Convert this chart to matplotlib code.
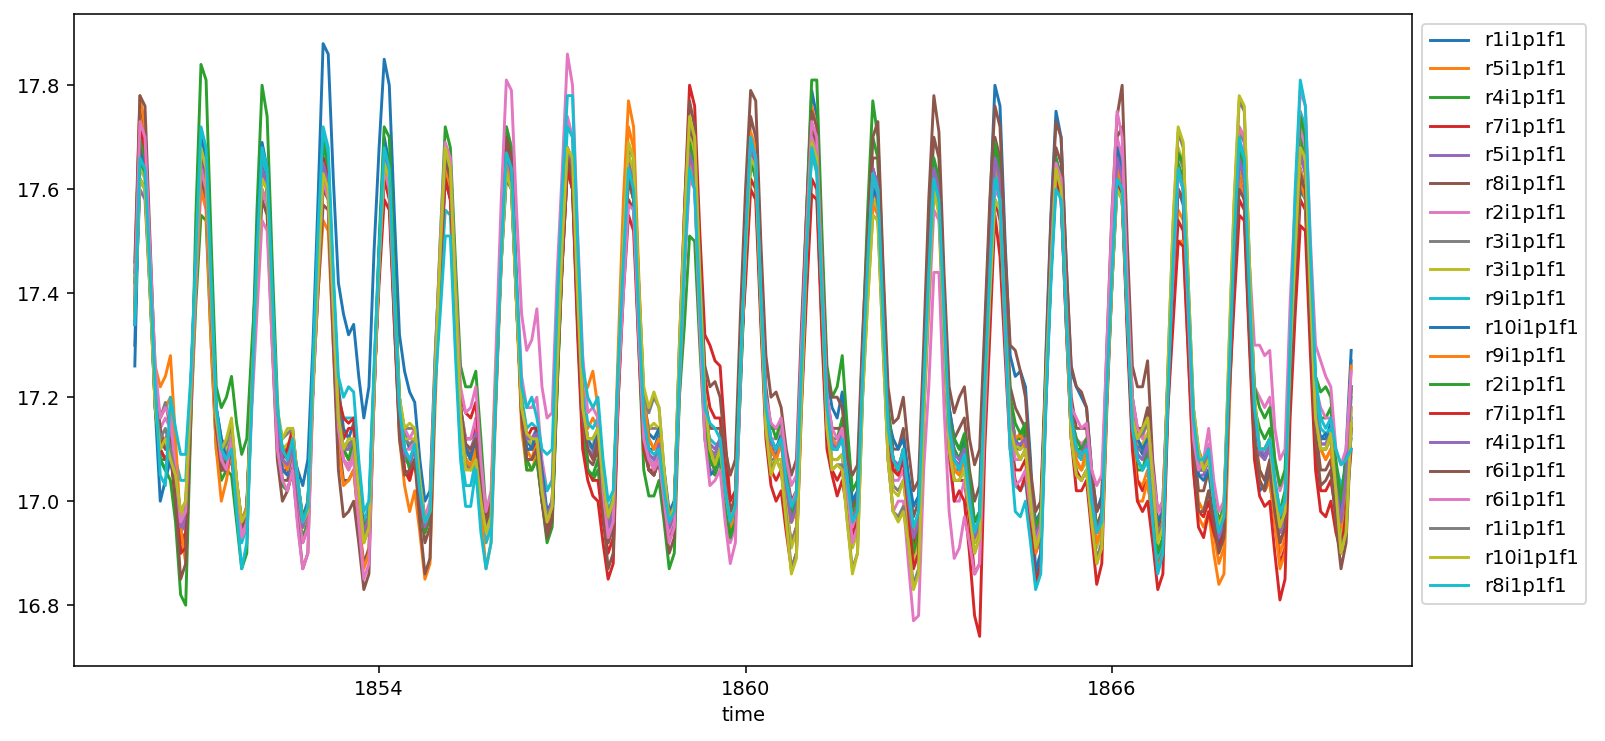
import numpy as np
import matplotlib
matplotlib.use("Agg")
import matplotlib.pyplot as plt

# monthly time axis, Jan 1850 .. Dec 1869
start_year = 1850
month_index = np.arange(240)
time = start_year + month_index / 12.0

member_labels = ["r1i1p1f1", "r5i1p1f1", "r4i1p1f1", "r7i1p1f1", "r5i1p1f1",
                 "r8i1p1f1", "r2i1p1f1", "r3i1p1f1", "r3i1p1f1", "r9i1p1f1",
                 "r10i1p1f1", "r9i1p1f1", "r2i1p1f1", "r7i1p1f1", "r4i1p1f1",
                 "r6i1p1f1", "r6i1p1f1", "r1i1p1f1", "r10i1p1f1", "r8i1p1f1"]

xtick_years = [1854, 1860, 1866]

s00 = [
    17.30, 17.70, 17.66, 17.44, 17.22, 17.08, 17.06, 17.10, 17.02, 16.94, 16.96, 17.22,
    17.48, 17.66, 17.62, 17.40, 17.18, 17.12, 17.10, 17.14, 17.04, 16.96, 16.99, 17.24,
    17.46, 17.66, 17.60, 17.38, 17.16, 17.08, 17.06, 17.10, 17.03, 16.97, 17.00, 17.22,
    17.44, 17.70, 17.64, 17.42, 17.22, 17.14, 17.12, 17.15, 17.06, 16.95, 16.97, 17.21,
    17.47, 17.70, 17.65, 17.42, 17.20, 17.13, 17.10, 17.12, 17.04, 16.96, 16.98, 17.24,
    17.46, 17.64, 17.60, 17.38, 17.18, 17.10, 17.08, 17.10, 17.02, 16.95, 16.97, 17.21,
    17.48, 17.66, 17.62, 17.40, 17.18, 17.12, 17.10, 17.14, 17.06, 16.97, 16.99, 17.23,
    17.47, 17.68, 17.64, 17.40, 17.18, 17.10, 17.09, 17.12, 17.04, 16.96, 16.98, 17.24,
    17.48, 17.64, 17.60, 17.38, 17.16, 17.10, 17.10, 17.13, 17.05, 16.97, 17.00, 17.23,
    17.46, 17.66, 17.62, 17.40, 17.18, 17.10, 17.08, 17.10, 17.02, 16.95, 16.97, 17.22,
    17.47, 17.68, 17.63, 17.40, 17.18, 17.12, 17.10, 17.13, 17.04, 16.96, 16.99, 17.24,
    17.48, 17.70, 17.66, 17.42, 17.20, 17.12, 17.10, 17.14, 17.06, 16.97, 16.99, 17.23,
    17.46, 17.62, 17.58, 17.36, 17.16, 17.08, 17.06, 17.10, 17.02, 16.95, 16.97, 17.20,
    17.44, 17.64, 17.60, 17.38, 17.16, 17.10, 17.08, 17.11, 17.03, 16.94, 16.96, 17.21,
    17.47, 17.68, 17.64, 17.40, 17.18, 17.12, 17.10, 17.13, 17.04, 16.96, 16.98, 17.23,
    17.46, 17.66, 17.62, 17.38, 17.17, 17.10, 17.08, 17.12, 17.03, 16.95, 16.97, 17.22,
    17.45, 17.66, 17.62, 17.40, 17.18, 17.11, 17.09, 17.12, 17.04, 16.95, 16.97, 17.22,
    17.46, 17.64, 17.60, 17.37, 17.15, 17.08, 17.06, 17.10, 17.02, 16.94, 16.96, 17.22,
    17.47, 17.66, 17.62, 17.40, 17.18, 17.10, 17.08, 17.11, 17.03, 16.95, 16.98, 17.23,
    17.46, 17.64, 17.60, 17.38, 17.18, 17.12, 17.12, 17.15, 17.06, 16.98, 17.04, 17.27,
]
s01 = [
    17.42, 17.76, 17.70, 17.46, 17.22, 17.16, 17.18, 17.20, 17.06, 16.94, 16.92, 17.18,
    17.44, 17.62, 17.58, 17.36, 17.14, 17.06, 17.08, 17.10, 17.02, 16.96, 16.98, 17.22,
    17.46, 17.66, 17.62, 17.38, 17.16, 17.10, 17.08, 17.12, 17.03, 16.96, 16.99, 17.24,
    17.46, 17.64, 17.60, 17.38, 17.16, 17.08, 17.06, 17.10, 17.00, 16.92, 16.95, 17.22,
    17.44, 17.64, 17.60, 17.36, 17.14, 17.06, 17.04, 17.08, 17.00, 16.94, 16.97, 17.22,
    17.46, 17.66, 17.62, 17.38, 17.16, 17.08, 17.07, 17.10, 17.00, 16.92, 16.95, 17.22,
    17.48, 17.68, 17.64, 17.40, 17.18, 17.10, 17.08, 17.12, 17.04, 16.97, 17.00, 17.26,
    17.48, 17.68, 17.64, 17.40, 17.18, 17.14, 17.16, 17.14, 17.04, 16.96, 16.99, 17.26,
    17.52, 17.72, 17.68, 17.42, 17.18, 17.12, 17.10, 17.12, 17.04, 16.97, 17.00, 17.24,
    17.46, 17.66, 17.62, 17.38, 17.16, 17.08, 17.06, 17.10, 17.00, 16.95, 16.98, 17.24,
    17.50, 17.69, 17.66, 17.40, 17.18, 17.10, 17.08, 17.12, 17.04, 16.96, 16.99, 17.26,
    17.52, 17.72, 17.68, 17.42, 17.18, 17.12, 17.10, 17.14, 17.04, 16.97, 17.00, 17.24,
    17.44, 17.60, 17.57, 17.36, 17.14, 17.08, 17.06, 17.10, 17.02, 16.95, 16.97, 17.22,
    17.44, 17.62, 17.58, 17.36, 17.14, 17.06, 17.06, 17.08, 17.00, 16.93, 16.96, 17.22,
    17.46, 17.64, 17.60, 17.38, 17.16, 17.12, 17.12, 17.12, 17.02, 16.93, 16.96, 17.22,
    17.46, 17.64, 17.60, 17.38, 17.16, 17.10, 17.08, 17.10, 17.02, 16.94, 16.97, 17.22,
    17.46, 17.66, 17.62, 17.38, 17.16, 17.04, 17.03, 17.06, 16.98, 16.90, 16.93, 17.20,
    17.40, 17.56, 17.54, 17.32, 17.10, 17.00, 16.98, 17.02, 16.94, 16.88, 16.91, 17.18,
    17.44, 17.64, 17.60, 17.36, 17.14, 17.06, 17.04, 17.06, 16.98, 16.90, 16.93, 17.22,
    17.46, 17.64, 17.60, 17.36, 17.16, 17.10, 17.08, 17.10, 17.02, 16.96, 17.04, 17.22,
]
s02 = [
    17.38, 17.66, 17.62, 17.40, 17.18, 17.08, 17.08, 17.10, 17.00, 16.90, 16.92, 17.16,
    17.38, 17.55, 17.54, 17.30, 17.10, 17.04, 17.06, 17.05, 16.96, 16.87, 16.90, 17.24,
    17.56, 17.80, 17.74, 17.46, 17.20, 17.03, 17.02, 17.06, 16.98, 16.93, 16.96, 17.22,
    17.46, 17.66, 17.62, 17.38, 17.16, 17.10, 17.08, 17.10, 17.00, 16.93, 16.96, 17.22,
    17.48, 17.68, 17.64, 17.40, 17.18, 17.10, 17.08, 17.10, 17.02, 16.95, 16.98, 17.24,
    17.46, 17.66, 17.62, 17.40, 17.18, 17.12, 17.12, 17.14, 17.04, 16.96, 16.99, 17.24,
    17.48, 17.68, 17.64, 17.40, 17.16, 17.08, 17.06, 17.08, 17.00, 16.94, 16.97, 17.22,
    17.46, 17.64, 17.60, 17.36, 17.14, 17.06, 17.04, 17.06, 16.98, 16.92, 16.95, 17.22,
    17.46, 17.64, 17.60, 17.36, 17.14, 17.06, 17.05, 17.08, 17.00, 16.93, 16.96, 17.20,
    17.34, 17.51, 17.50, 17.30, 17.12, 17.06, 17.05, 17.08, 17.00, 16.94, 16.97, 17.22,
    17.46, 17.66, 17.62, 17.38, 17.16, 17.10, 17.10, 17.12, 17.04, 16.96, 16.99, 17.26,
    17.50, 17.72, 17.68, 17.42, 17.18, 17.12, 17.12, 17.16, 17.06, 16.98, 17.00, 17.28,
    17.50, 17.70, 17.66, 17.40, 17.16, 17.08, 17.06, 17.10, 17.00, 16.92, 16.95, 17.20,
    17.44, 17.62, 17.60, 17.36, 17.14, 17.10, 17.08, 17.12, 17.02, 16.94, 16.97, 17.22,
    17.46, 17.66, 17.62, 17.38, 17.18, 17.12, 17.12, 17.14, 17.02, 16.94, 16.97, 17.22,
    17.46, 17.64, 17.60, 17.38, 17.16, 17.10, 17.10, 17.12, 17.02, 16.95, 16.98, 17.22,
    17.44, 17.62, 17.58, 17.36, 17.14, 17.06, 17.06, 17.08, 16.98, 16.88, 16.92, 17.20,
    17.46, 17.65, 17.62, 17.38, 17.14, 17.06, 17.06, 17.08, 17.00, 16.94, 16.97, 17.22,
    17.48, 17.66, 17.62, 17.38, 17.18, 17.14, 17.12, 17.14, 17.04, 16.98, 17.02, 17.26,
    17.50, 17.70, 17.66, 17.42, 17.20, 17.16, 17.16, 17.18, 17.06, 17.00, 17.06, 17.20,
]
s03 = [
    17.34, 17.70, 17.66, 17.44, 17.20, 17.10, 17.08, 17.10, 17.00, 16.92, 16.94, 17.18,
    17.44, 17.64, 17.60, 17.36, 17.14, 17.06, 17.06, 17.08, 17.00, 16.95, 16.98, 17.22,
    17.44, 17.64, 17.60, 17.36, 17.14, 17.06, 17.06, 17.10, 17.02, 16.95, 16.98, 17.22,
    17.46, 17.66, 17.62, 17.38, 17.18, 17.12, 17.14, 17.14, 17.02, 16.94, 16.96, 17.22,
    17.44, 17.62, 17.58, 17.36, 17.14, 17.06, 17.04, 17.08, 17.00, 16.94, 16.97, 17.22,
    17.44, 17.62, 17.58, 17.36, 17.16, 17.12, 17.12, 17.14, 17.04, 16.96, 16.99, 17.24,
    17.48, 17.68, 17.64, 17.40, 17.16, 17.10, 17.10, 17.12, 17.02, 16.95, 16.98, 17.24,
    17.46, 17.64, 17.60, 17.34, 17.12, 17.06, 17.04, 17.04, 16.96, 16.90, 16.93, 17.20,
    17.42, 17.58, 17.56, 17.32, 17.12, 17.06, 17.06, 17.08, 17.00, 16.95, 16.98, 17.26,
    17.50, 17.72, 17.70, 17.46, 17.24, 17.18, 17.16, 17.16, 17.06, 16.98, 17.00, 17.26,
    17.44, 17.62, 17.60, 17.36, 17.14, 17.06, 17.04, 17.06, 16.98, 16.92, 16.95, 17.20,
    17.42, 17.62, 17.60, 17.34, 17.12, 17.06, 17.04, 17.06, 17.00, 16.94, 16.97, 17.22,
    17.46, 17.62, 17.60, 17.36, 17.14, 17.06, 17.06, 17.08, 17.00, 16.92, 16.95, 17.20,
    17.44, 17.60, 17.58, 17.34, 17.12, 17.04, 17.04, 17.04, 16.96, 16.86, 16.88, 17.14,
    17.38, 17.58, 17.54, 17.32, 17.12, 17.06, 17.06, 17.08, 16.98, 16.90, 16.93, 17.20,
    17.44, 17.62, 17.58, 17.34, 17.12, 17.06, 17.04, 17.06, 16.96, 16.88, 16.92, 17.20,
    17.42, 17.62, 17.58, 17.34, 17.12, 17.04, 17.02, 17.04, 16.96, 16.88, 16.91, 17.20,
    17.38, 17.54, 17.52, 17.30, 17.08, 16.98, 16.97, 17.00, 16.95, 16.92, 16.95, 17.20,
    17.42, 17.58, 17.56, 17.32, 17.10, 17.04, 17.02, 17.04, 16.96, 16.88, 16.91, 17.20,
    17.40, 17.58, 17.56, 17.32, 17.10, 17.02, 17.02, 17.04, 16.98, 16.93, 17.00, 17.14,
]
s04 = [
    17.36, 17.60, 17.58, 17.40, 17.18, 17.10, 17.12, 17.10, 17.02, 16.94, 16.96, 17.18,
    17.44, 17.64, 17.60, 17.38, 17.16, 17.08, 17.08, 17.12, 17.02, 16.95, 16.98, 17.22,
    17.46, 17.65, 17.61, 17.38, 17.16, 17.08, 17.07, 17.10, 17.02, 16.95, 16.98, 17.23,
    17.46, 17.66, 17.62, 17.38, 17.18, 17.10, 17.10, 17.12, 17.02, 16.94, 16.97, 17.22,
    17.46, 17.66, 17.62, 17.38, 17.16, 17.08, 17.07, 17.10, 17.01, 16.95, 16.98, 17.23,
    17.46, 17.66, 17.62, 17.38, 17.16, 17.10, 17.10, 17.12, 17.02, 16.95, 16.98, 17.24,
    17.48, 17.68, 17.64, 17.40, 17.18, 17.12, 17.12, 17.14, 17.04, 16.97, 17.00, 17.26,
    17.48, 17.68, 17.64, 17.40, 17.16, 17.10, 17.09, 17.12, 17.02, 16.95, 16.98, 17.24,
    17.46, 17.65, 17.61, 17.38, 17.16, 17.09, 17.08, 17.10, 17.02, 16.95, 16.98, 17.24,
    17.48, 17.67, 17.63, 17.40, 17.18, 17.10, 17.09, 17.12, 17.03, 16.96, 16.99, 17.25,
    17.48, 17.67, 17.64, 17.40, 17.18, 17.10, 17.09, 17.12, 17.03, 16.96, 16.99, 17.25,
    17.50, 17.70, 17.66, 17.41, 17.18, 17.11, 17.10, 17.13, 17.03, 16.96, 16.99, 17.24,
    17.46, 17.64, 17.60, 17.37, 17.15, 17.08, 17.06, 17.09, 17.00, 16.93, 16.96, 17.21,
    17.45, 17.64, 17.60, 17.37, 17.15, 17.08, 17.07, 17.10, 17.01, 16.93, 16.96, 17.22,
    17.47, 17.66, 17.62, 17.38, 17.17, 17.11, 17.11, 17.12, 17.02, 16.93, 16.96, 17.22,
    17.46, 17.65, 17.61, 17.38, 17.16, 17.10, 17.09, 17.11, 17.02, 16.94, 16.97, 17.23,
    17.47, 17.66, 17.62, 17.38, 17.16, 17.09, 17.08, 17.11, 17.01, 16.93, 16.96, 17.22,
    17.45, 17.63, 17.60, 17.36, 17.13, 17.05, 17.05, 17.08, 17.00, 16.93, 16.96, 17.22,
    17.47, 17.66, 17.62, 17.38, 17.16, 17.09, 17.08, 17.10, 17.02, 16.94, 16.97, 17.24,
    17.48, 17.67, 17.63, 17.39, 17.17, 17.11, 17.11, 17.13, 17.03, 16.96, 17.05, 17.22,
]
s05 = [
    17.44, 17.76, 17.72, 17.46, 17.22, 17.12, 17.10, 17.14, 17.02, 16.90, 16.92, 17.18,
    17.44, 17.62, 17.58, 17.36, 17.14, 17.06, 17.06, 17.10, 17.00, 16.94, 16.97, 17.22,
    17.42, 17.60, 17.57, 17.34, 17.12, 17.04, 17.04, 17.08, 16.98, 16.92, 16.95, 17.22,
    17.42, 17.60, 17.58, 17.34, 17.12, 17.04, 17.04, 17.06, 16.96, 16.88, 16.91, 17.20,
    17.46, 17.64, 17.60, 17.36, 17.14, 17.08, 17.08, 17.10, 17.00, 16.92, 16.95, 17.22,
    17.46, 17.66, 17.62, 17.38, 17.16, 17.10, 17.09, 17.12, 17.02, 16.95, 16.98, 17.24,
    17.48, 17.68, 17.64, 17.40, 17.16, 17.08, 17.08, 17.10, 17.00, 16.94, 16.97, 17.24,
    17.48, 17.66, 17.62, 17.38, 17.16, 17.08, 17.07, 17.10, 17.00, 16.92, 16.95, 17.22,
    17.46, 17.64, 17.60, 17.36, 17.14, 17.08, 17.07, 17.10, 17.00, 16.93, 16.96, 17.24,
    17.52, 17.72, 17.68, 17.42, 17.20, 17.14, 17.14, 17.14, 17.04, 16.98, 17.01, 17.28,
    17.54, 17.74, 17.70, 17.44, 17.22, 17.14, 17.14, 17.14, 17.06, 17.00, 17.02, 17.28,
    17.52, 17.72, 17.68, 17.42, 17.20, 17.14, 17.14, 17.14, 17.04, 16.99, 17.01, 17.26,
    17.48, 17.66, 17.66, 17.40, 17.18, 17.10, 17.10, 17.14, 17.04, 16.97, 17.00, 17.26,
    17.52, 17.70, 17.66, 17.40, 17.18, 17.12, 17.14, 17.16, 17.06, 17.00, 17.03, 17.28,
    17.52, 17.70, 17.66, 17.42, 17.22, 17.18, 17.16, 17.14, 17.02, 16.94, 16.97, 17.24,
    17.50, 17.68, 17.65, 17.40, 17.20, 17.14, 17.14, 17.14, 17.03, 16.95, 16.98, 17.26,
    17.52, 17.70, 17.72, 17.44, 17.20, 17.14, 17.14, 17.18, 17.04, 16.95, 16.98, 17.22,
    17.44, 17.60, 17.58, 17.34, 17.12, 17.02, 17.02, 17.06, 16.98, 16.92, 16.95, 17.22,
    17.44, 17.62, 17.58, 17.34, 17.12, 17.06, 17.04, 17.08, 16.98, 16.92, 16.95, 17.22,
    17.45, 17.63, 17.60, 17.36, 17.14, 17.06, 17.06, 17.08, 16.98, 16.90, 16.96, 17.16,
]
s06 = [
    17.40, 17.70, 17.66, 17.44, 17.22, 17.14, 17.16, 17.14, 17.04, 16.95, 16.97, 17.20,
    17.44, 17.64, 17.60, 17.38, 17.16, 17.08, 17.07, 17.10, 17.00, 16.94, 16.97, 17.20,
    17.42, 17.60, 17.57, 17.34, 17.14, 17.06, 17.05, 17.08, 16.98, 16.92, 16.95, 17.22,
    17.44, 17.64, 17.60, 17.36, 17.14, 17.08, 17.07, 17.10, 17.00, 16.92, 16.95, 17.22,
    17.46, 17.64, 17.60, 17.38, 17.16, 17.10, 17.10, 17.12, 17.02, 16.96, 16.99, 17.24,
    17.48, 17.66, 17.63, 17.40, 17.18, 17.12, 17.12, 17.16, 17.04, 16.96, 16.99, 17.26,
    17.50, 17.72, 17.68, 17.44, 17.24, 17.18, 17.18, 17.20, 17.08, 17.02, 17.04, 17.30,
    17.54, 17.74, 17.70, 17.44, 17.20, 17.12, 17.12, 17.12, 17.02, 16.94, 16.97, 17.22,
    17.44, 17.62, 17.58, 17.35, 17.14, 17.08, 17.07, 17.10, 17.01, 16.94, 16.97, 17.23,
    17.46, 17.64, 17.61, 17.36, 17.14, 17.06, 17.06, 17.08, 16.98, 16.92, 16.95, 17.24,
    17.49, 17.68, 17.65, 17.40, 17.18, 17.12, 17.12, 17.14, 17.05, 16.99, 17.02, 17.27,
    17.50, 17.70, 17.67, 17.42, 17.18, 17.12, 17.11, 17.13, 17.03, 16.95, 16.98, 17.24,
    17.46, 17.64, 17.60, 17.36, 17.12, 17.04, 17.04, 17.06, 16.96, 16.88, 16.90, 17.16,
    17.36, 17.56, 17.54, 17.30, 17.08, 17.00, 17.00, 17.04, 16.98, 16.92, 16.94, 17.18,
    17.44, 17.62, 17.59, 17.36, 17.14, 17.08, 17.08, 17.10, 17.00, 16.93, 16.96, 17.22,
    17.46, 17.64, 17.61, 17.38, 17.16, 17.12, 17.11, 17.12, 17.04, 16.98, 17.01, 17.26,
    17.50, 17.70, 17.66, 17.40, 17.18, 17.12, 17.10, 17.13, 17.04, 16.96, 16.99, 17.23,
    17.45, 17.64, 17.60, 17.37, 17.13, 17.07, 17.07, 17.11, 17.02, 16.96, 16.99, 17.24,
    17.50, 17.69, 17.66, 17.42, 17.22, 17.20, 17.18, 17.20, 17.08, 17.02, 17.05, 17.30,
    17.52, 17.72, 17.68, 17.42, 17.22, 17.18, 17.16, 17.16, 17.06, 17.02, 17.07, 17.22,
]
s07 = [
    17.38, 17.62, 17.60, 17.42, 17.22, 17.16, 17.19, 17.14, 17.06, 16.97, 16.99, 17.20,
    17.45, 17.65, 17.62, 17.38, 17.16, 17.10, 17.09, 17.12, 17.03, 16.96, 16.98, 17.22,
    17.44, 17.63, 17.60, 17.37, 17.16, 17.10, 17.10, 17.12, 17.02, 16.96, 16.98, 17.22,
    17.45, 17.64, 17.61, 17.38, 17.16, 17.10, 17.10, 17.11, 17.02, 16.94, 16.96, 17.22,
    17.46, 17.65, 17.62, 17.39, 17.17, 17.12, 17.11, 17.12, 17.03, 16.96, 16.98, 17.23,
    17.47, 17.66, 17.62, 17.40, 17.16, 17.08, 17.08, 17.10, 17.01, 16.95, 16.97, 17.24,
    17.47, 17.65, 17.61, 17.38, 17.17, 17.12, 17.11, 17.12, 17.03, 16.96, 16.99, 17.25,
    17.48, 17.67, 17.64, 17.40, 17.18, 17.11, 17.10, 17.13, 17.03, 16.96, 16.99, 17.25,
    17.48, 17.66, 17.63, 17.40, 17.18, 17.14, 17.14, 17.14, 17.04, 16.96, 16.99, 17.26,
    17.50, 17.70, 17.66, 17.42, 17.19, 17.10, 17.08, 17.10, 17.02, 16.96, 16.99, 17.25,
    17.48, 17.66, 17.63, 17.38, 17.15, 17.08, 17.08, 17.08, 16.99, 16.92, 16.95, 17.22,
    17.48, 17.68, 17.65, 17.40, 17.15, 17.08, 17.08, 17.09, 16.99, 16.92, 16.95, 17.21,
    17.42, 17.58, 17.56, 17.33, 17.11, 17.03, 17.02, 17.04, 16.96, 16.90, 16.92, 17.18,
    17.42, 17.61, 17.57, 17.34, 17.12, 17.06, 17.06, 17.08, 16.99, 16.92, 16.95, 17.21,
    17.43, 17.62, 17.58, 17.36, 17.15, 17.10, 17.10, 17.11, 17.01, 16.92, 16.95, 17.22,
    17.45, 17.63, 17.60, 17.37, 17.14, 17.07, 17.06, 17.08, 16.99, 16.92, 16.95, 17.21,
    17.44, 17.62, 17.59, 17.37, 17.15, 17.10, 17.10, 17.12, 17.02, 16.93, 16.96, 17.24,
    17.49, 17.67, 17.64, 17.40, 17.16, 17.08, 17.06, 17.09, 17.00, 16.95, 16.98, 17.25,
    17.51, 17.71, 17.69, 17.42, 17.18, 17.10, 17.10, 17.12, 17.03, 16.96, 16.99, 17.26,
    17.48, 17.66, 17.64, 17.39, 17.16, 17.10, 17.10, 17.12, 17.03, 16.94, 16.98, 17.18,
]
s08 = [
    17.38, 17.64, 17.62, 17.42, 17.20, 17.12, 17.12, 17.10, 17.04, 16.97, 16.99, 17.20,
    17.46, 17.66, 17.62, 17.38, 17.16, 17.10, 17.10, 17.13, 17.03, 16.96, 16.98, 17.22,
    17.44, 17.63, 17.60, 17.38, 17.16, 17.10, 17.11, 17.12, 17.03, 16.96, 16.98, 17.22,
    17.45, 17.64, 17.60, 17.38, 17.16, 17.10, 17.10, 17.11, 17.02, 16.93, 16.96, 17.22,
    17.46, 17.65, 17.62, 17.39, 17.18, 17.12, 17.12, 17.12, 17.03, 16.96, 16.98, 17.24,
    17.47, 17.66, 17.63, 17.40, 17.16, 17.08, 17.08, 17.10, 17.01, 16.95, 16.98, 17.24,
    17.47, 17.65, 17.61, 17.38, 17.18, 17.12, 17.11, 17.12, 17.03, 16.96, 16.99, 17.25,
    17.49, 17.67, 17.64, 17.40, 17.18, 17.11, 17.11, 17.13, 17.03, 16.96, 16.99, 17.25,
    17.48, 17.67, 17.63, 17.40, 17.19, 17.14, 17.15, 17.14, 17.04, 16.96, 16.99, 17.27,
    17.51, 17.70, 17.67, 17.42, 17.19, 17.10, 17.08, 17.10, 17.02, 16.96, 16.99, 17.25,
    17.48, 17.66, 17.63, 17.38, 17.15, 17.07, 17.08, 17.08, 16.99, 16.91, 16.94, 17.22,
    17.48, 17.68, 17.65, 17.40, 17.15, 17.08, 17.08, 17.09, 16.99, 16.91, 16.94, 17.21,
    17.42, 17.58, 17.56, 17.33, 17.11, 17.02, 17.01, 17.04, 16.96, 16.89, 16.92, 17.18,
    17.42, 17.61, 17.57, 17.34, 17.12, 17.06, 17.05, 17.08, 16.99, 16.92, 16.95, 17.21,
    17.43, 17.61, 17.58, 17.36, 17.15, 17.11, 17.10, 17.11, 17.01, 16.92, 16.95, 17.22,
    17.45, 17.64, 17.60, 17.37, 17.14, 17.07, 17.06, 17.08, 16.99, 16.91, 16.94, 17.21,
    17.44, 17.62, 17.59, 17.37, 17.16, 17.11, 17.11, 17.13, 17.03, 16.93, 16.96, 17.24,
    17.50, 17.68, 17.65, 17.40, 17.16, 17.08, 17.06, 17.09, 17.00, 16.95, 16.98, 17.26,
    17.52, 17.72, 17.70, 17.42, 17.19, 17.10, 17.10, 17.12, 17.03, 16.96, 16.99, 17.26,
    17.48, 17.67, 17.64, 17.39, 17.16, 17.10, 17.10, 17.12, 17.03, 16.93, 16.98, 17.18,
]
s09 = [
    17.36, 17.66, 17.64, 17.42, 17.20, 17.08, 17.06, 17.12, 17.08, 17.04, 17.04, 17.22,
    17.46, 17.68, 17.64, 17.40, 17.16, 17.08, 17.08, 17.10, 17.00, 16.92, 16.95, 17.20,
    17.46, 17.66, 17.62, 17.38, 17.16, 17.10, 17.08, 17.12, 17.03, 16.96, 16.99, 17.24,
    17.50, 17.70, 17.66, 17.42, 17.20, 17.16, 17.16, 17.16, 17.05, 16.96, 16.99, 17.24,
    17.48, 17.66, 17.62, 17.38, 17.16, 17.08, 17.08, 17.10, 17.02, 16.95, 16.98, 17.22,
    17.40, 17.56, 17.55, 17.32, 17.10, 17.03, 17.03, 17.08, 16.98, 16.92, 16.95, 17.22,
    17.48, 17.66, 17.62, 17.40, 17.20, 17.14, 17.15, 17.14, 17.06, 17.02, 17.04, 17.30,
    17.54, 17.72, 17.70, 17.44, 17.22, 17.15, 17.14, 17.16, 17.06, 16.98, 17.01, 17.25,
    17.46, 17.64, 17.60, 17.36, 17.15, 17.09, 17.08, 17.10, 17.02, 16.95, 16.98, 17.24,
    17.46, 17.64, 17.60, 17.37, 17.16, 17.12, 17.11, 17.11, 17.02, 16.96, 16.99, 17.25,
    17.49, 17.68, 17.64, 17.40, 17.18, 17.11, 17.10, 17.12, 17.04, 16.98, 17.00, 17.25,
    17.48, 17.67, 17.63, 17.40, 17.17, 17.10, 17.10, 17.12, 17.03, 16.96, 16.98, 17.23,
    17.46, 17.62, 17.59, 17.36, 17.14, 17.08, 17.06, 17.09, 17.01, 16.95, 16.97, 17.22,
    17.44, 17.62, 17.58, 17.36, 17.14, 17.08, 17.06, 17.09, 17.00, 16.94, 16.97, 17.22,
    17.45, 17.63, 17.59, 17.35, 17.12, 17.03, 17.02, 17.04, 16.95, 16.87, 16.90, 17.19,
    17.43, 17.61, 17.58, 17.36, 17.15, 17.09, 17.08, 17.10, 17.00, 16.94, 16.96, 17.22,
    17.44, 17.62, 17.60, 17.36, 17.14, 17.08, 17.06, 17.08, 16.97, 16.89, 16.92, 17.20,
    17.46, 17.64, 17.60, 17.37, 17.15, 17.08, 17.07, 17.10, 17.00, 16.94, 16.97, 17.24,
    17.49, 17.68, 17.65, 17.40, 17.17, 17.10, 17.10, 17.12, 17.03, 16.97, 17.00, 17.28,
    17.55, 17.75, 17.72, 17.45, 17.21, 17.14, 17.13, 17.14, 17.07, 17.03, 17.06, 17.12,
]
s10 = [
    17.26, 17.68, 17.64, 17.42, 17.18, 17.00, 17.04, 17.08, 17.02, 16.96, 16.97, 17.22,
    17.46, 17.70, 17.66, 17.42, 17.18, 17.12, 17.08, 17.12, 17.03, 16.96, 16.98, 17.25,
    17.50, 17.69, 17.64, 17.40, 17.16, 17.06, 17.05, 17.10, 17.06, 17.03, 17.08, 17.30,
    17.58, 17.88, 17.86, 17.62, 17.42, 17.36, 17.32, 17.34, 17.24, 17.16, 17.22, 17.48,
    17.68, 17.85, 17.80, 17.55, 17.32, 17.25, 17.21, 17.19, 17.08, 17.00, 17.02, 17.28,
    17.48, 17.65, 17.62, 17.40, 17.18, 17.10, 17.08, 17.12, 17.04, 16.96, 16.98, 17.22,
    17.46, 17.62, 17.60, 17.38, 17.18, 17.10, 17.10, 17.14, 17.06, 16.98, 17.00, 17.24,
    17.48, 17.66, 17.62, 17.40, 17.18, 17.12, 17.10, 17.14, 17.05, 16.97, 16.99, 17.25,
    17.50, 17.63, 17.60, 17.40, 17.20, 17.13, 17.12, 17.14, 17.06, 16.98, 17.00, 17.24,
    17.46, 17.65, 17.62, 17.38, 17.16, 17.05, 17.06, 17.08, 17.00, 16.95, 16.98, 17.24,
    17.48, 17.68, 17.64, 17.40, 17.18, 17.10, 17.08, 17.12, 17.04, 16.96, 16.99, 17.30,
    17.55, 17.79, 17.74, 17.48, 17.24, 17.18, 17.16, 17.21, 17.10, 17.00, 17.02, 17.26,
    17.46, 17.60, 17.58, 17.36, 17.16, 17.12, 17.10, 17.12, 17.05, 16.99, 17.01, 17.26,
    17.48, 17.63, 17.60, 17.38, 17.18, 17.12, 17.10, 17.12, 17.04, 16.96, 16.98, 17.30,
    17.56, 17.80, 17.76, 17.50, 17.28, 17.24, 17.25, 17.22, 17.08, 16.86, 16.90, 17.28,
    17.55, 17.75, 17.70, 17.46, 17.25, 17.22, 17.20, 17.18, 17.06, 16.98, 17.01, 17.28,
    17.50, 17.68, 17.64, 17.40, 17.20, 17.12, 17.10, 17.12, 17.04, 16.96, 16.98, 17.22,
    17.44, 17.60, 17.57, 17.35, 17.14, 17.05, 17.04, 17.06, 16.98, 16.91, 16.95, 17.20,
    17.44, 17.62, 17.58, 17.36, 17.14, 17.02, 17.03, 17.06, 17.00, 16.96, 16.98, 17.22,
    17.44, 17.60, 17.58, 17.36, 17.16, 17.12, 17.13, 17.12, 17.05, 16.98, 17.10, 17.29,
]
s11 = [
    17.40, 17.78, 17.72, 17.48, 17.26, 17.22, 17.24, 17.28, 17.12, 16.95, 16.88, 17.15,
    17.42, 17.60, 17.56, 17.30, 17.10, 17.00, 17.04, 17.10, 17.02, 16.96, 16.99, 17.20,
    17.44, 17.64, 17.60, 17.38, 17.16, 17.08, 17.06, 17.10, 17.02, 16.95, 16.98, 17.22,
    17.40, 17.54, 17.52, 17.30, 17.10, 17.03, 17.04, 17.06, 16.96, 16.87, 16.90, 17.20,
    17.46, 17.66, 17.60, 17.36, 17.12, 17.03, 16.98, 17.02, 16.94, 16.85, 16.88, 17.18,
    17.44, 17.64, 17.60, 17.36, 17.14, 17.08, 17.06, 17.10, 16.98, 16.87, 16.92, 17.20,
    17.46, 17.66, 17.62, 17.38, 17.14, 17.06, 17.06, 17.09, 17.02, 16.96, 16.98, 17.24,
    17.48, 17.66, 17.62, 17.40, 17.20, 17.22, 17.25, 17.18, 17.06, 16.97, 17.00, 17.30,
    17.58, 17.77, 17.72, 17.44, 17.20, 17.12, 17.10, 17.12, 17.04, 16.97, 16.99, 17.24,
    17.46, 17.66, 17.62, 17.38, 17.16, 17.08, 17.06, 17.10, 17.02, 16.95, 16.97, 17.26,
    17.52, 17.71, 17.68, 17.42, 17.18, 17.10, 17.08, 17.11, 17.03, 16.96, 16.98, 17.28,
    17.54, 17.76, 17.72, 17.44, 17.20, 17.12, 17.10, 17.14, 17.04, 16.96, 16.99, 17.22,
    17.42, 17.57, 17.55, 17.34, 17.14, 17.06, 17.05, 17.08, 17.00, 16.94, 16.96, 17.20,
    17.44, 17.62, 17.58, 17.36, 17.14, 17.06, 17.05, 17.08, 17.00, 16.93, 16.95, 17.22,
    17.46, 17.66, 17.62, 17.38, 17.16, 17.12, 17.13, 17.10, 17.00, 16.90, 16.94, 17.20,
    17.44, 17.64, 17.60, 17.38, 17.16, 17.08, 17.06, 17.10, 17.00, 16.92, 16.95, 17.22,
    17.46, 17.64, 17.60, 17.36, 17.14, 17.00, 17.00, 17.04, 16.96, 16.87, 16.90, 17.18,
    17.38, 17.50, 17.50, 17.28, 17.06, 16.97, 16.95, 16.98, 16.90, 16.84, 16.86, 17.16,
    17.44, 17.62, 17.58, 17.34, 17.12, 17.04, 17.02, 17.04, 16.96, 16.87, 16.90, 17.20,
    17.44, 17.62, 17.58, 17.36, 17.16, 17.10, 17.08, 17.10, 17.02, 16.95, 17.06, 17.26,
]
s12 = [
    17.42, 17.70, 17.66, 17.42, 17.18, 17.08, 17.06, 17.04, 16.96, 16.82, 16.80, 17.15,
    17.55, 17.84, 17.81, 17.50, 17.22, 17.18, 17.20, 17.24, 17.15, 17.09, 17.12, 17.30,
    17.46, 17.64, 17.60, 17.38, 17.16, 17.10, 17.08, 17.12, 17.04, 16.97, 16.99, 17.24,
    17.50, 17.69, 17.64, 17.40, 17.18, 17.10, 17.08, 17.12, 17.02, 16.95, 16.97, 17.24,
    17.50, 17.72, 17.70, 17.44, 17.20, 17.10, 17.06, 17.08, 17.00, 16.94, 16.97, 17.26,
    17.50, 17.72, 17.68, 17.46, 17.26, 17.22, 17.22, 17.25, 17.12, 16.98, 17.00, 17.24,
    17.50, 17.72, 17.68, 17.42, 17.18, 17.06, 17.06, 17.08, 17.00, 16.92, 16.95, 17.22,
    17.48, 17.66, 17.62, 17.38, 17.16, 17.06, 17.05, 17.08, 17.00, 16.95, 16.98, 17.24,
    17.46, 17.62, 17.58, 17.30, 17.06, 17.01, 17.01, 17.04, 16.96, 16.87, 16.90, 17.20,
    17.48, 17.69, 17.64, 17.40, 17.16, 17.08, 17.06, 17.09, 17.00, 16.93, 16.96, 17.24,
    17.46, 17.66, 17.62, 17.40, 17.18, 17.15, 17.12, 17.16, 17.06, 16.97, 17.00, 17.30,
    17.56, 17.81, 17.81, 17.52, 17.26, 17.20, 17.22, 17.28, 17.14, 17.02, 17.04, 17.30,
    17.56, 17.77, 17.70, 17.44, 17.18, 17.08, 17.06, 17.09, 17.00, 16.90, 16.94, 17.22,
    17.46, 17.66, 17.62, 17.38, 17.16, 17.12, 17.10, 17.13, 17.04, 16.96, 16.98, 17.25,
    17.48, 17.69, 17.64, 17.40, 17.20, 17.15, 17.13, 17.15, 17.04, 16.95, 16.98, 17.24,
    17.46, 17.66, 17.62, 17.38, 17.16, 17.12, 17.10, 17.12, 17.02, 16.95, 16.97, 17.22,
    17.44, 17.62, 17.60, 17.36, 17.14, 17.08, 17.06, 17.10, 17.00, 16.90, 16.93, 17.20,
    17.48, 17.67, 17.65, 17.40, 17.16, 17.06, 17.06, 17.10, 17.02, 16.96, 16.99, 17.24,
    17.48, 17.67, 17.64, 17.40, 17.22, 17.18, 17.16, 17.18, 17.08, 17.03, 17.06, 17.30,
    17.52, 17.74, 17.70, 17.44, 17.24, 17.21, 17.22, 17.20, 17.08, 17.00, 17.08, 17.22,
]
s13 = [
    17.36, 17.72, 17.68, 17.44, 17.20, 17.10, 17.08, 17.10, 17.00, 16.90, 16.91, 17.18,
    17.46, 17.66, 17.62, 17.38, 17.14, 17.08, 17.06, 17.10, 17.02, 16.95, 16.98, 17.22,
    17.44, 17.64, 17.60, 17.36, 17.14, 17.08, 17.10, 17.14, 17.04, 16.96, 16.99, 17.24,
    17.46, 17.66, 17.62, 17.40, 17.20, 17.16, 17.15, 17.16, 17.02, 16.94, 16.96, 17.22,
    17.42, 17.58, 17.56, 17.34, 17.14, 17.06, 17.05, 17.08, 17.00, 16.95, 16.98, 17.24,
    17.44, 17.62, 17.58, 17.38, 17.20, 17.17, 17.16, 17.19, 17.06, 16.97, 17.00, 17.26,
    17.50, 17.70, 17.66, 17.40, 17.18, 17.12, 17.14, 17.14, 17.04, 16.96, 16.99, 17.26,
    17.46, 17.64, 17.60, 17.32, 17.10, 17.04, 17.01, 17.00, 16.92, 16.85, 16.88, 17.20,
    17.40, 17.55, 17.52, 17.30, 17.10, 17.06, 17.05, 17.08, 17.00, 16.95, 16.98, 17.30,
    17.56, 17.80, 17.76, 17.52, 17.32, 17.30, 17.27, 17.26, 17.12, 17.00, 17.02, 17.28,
    17.42, 17.60, 17.58, 17.34, 17.12, 17.03, 17.00, 17.02, 16.94, 16.87, 16.90, 17.18,
    17.40, 17.59, 17.58, 17.32, 17.10, 17.05, 17.01, 17.04, 16.98, 16.93, 16.96, 17.22,
    17.46, 17.64, 17.60, 17.36, 17.14, 17.06, 17.05, 17.08, 16.98, 16.87, 16.90, 17.20,
    17.44, 17.62, 17.58, 17.32, 17.10, 17.00, 17.02, 17.00, 16.90, 16.78, 16.74, 17.10,
    17.32, 17.55, 17.47, 17.28, 17.10, 17.04, 17.02, 17.05, 16.96, 16.84, 16.88, 17.18,
    17.44, 17.62, 17.58, 17.34, 17.12, 17.02, 17.02, 17.04, 16.94, 16.84, 16.88, 17.18,
    17.42, 17.61, 17.58, 17.32, 17.10, 17.00, 16.98, 17.00, 16.92, 16.83, 16.86, 17.18,
    17.34, 17.50, 17.49, 17.28, 17.06, 16.95, 16.93, 16.98, 16.94, 16.91, 16.94, 17.20,
    17.38, 17.55, 17.54, 17.30, 17.08, 17.01, 16.99, 17.00, 16.90, 16.81, 16.85, 17.16,
    17.36, 17.53, 17.52, 17.28, 17.06, 16.98, 16.97, 17.00, 16.94, 16.90, 16.98, 17.10,
]
s14 = [
    17.34, 17.62, 17.60, 17.42, 17.20, 17.10, 17.12, 17.14, 17.04, 16.95, 16.97, 17.18,
    17.45, 17.65, 17.61, 17.38, 17.16, 17.09, 17.08, 17.12, 17.02, 16.95, 16.98, 17.22,
    17.45, 17.64, 17.60, 17.37, 17.15, 17.08, 17.07, 17.10, 17.01, 16.95, 16.98, 17.23,
    17.46, 17.65, 17.61, 17.38, 17.17, 17.10, 17.10, 17.12, 17.02, 16.94, 16.97, 17.22,
    17.46, 17.66, 17.62, 17.38, 17.16, 17.09, 17.08, 17.10, 17.01, 16.95, 16.98, 17.23,
    17.46, 17.66, 17.62, 17.38, 17.17, 17.11, 17.10, 17.13, 17.03, 16.95, 16.98, 17.24,
    17.48, 17.67, 17.63, 17.39, 17.18, 17.12, 17.12, 17.13, 17.04, 16.97, 17.00, 17.26,
    17.48, 17.67, 17.63, 17.39, 17.16, 17.10, 17.09, 17.12, 17.02, 16.95, 16.98, 17.24,
    17.46, 17.65, 17.61, 17.38, 17.16, 17.09, 17.08, 17.11, 17.02, 16.95, 16.98, 17.24,
    17.48, 17.67, 17.63, 17.40, 17.18, 17.11, 17.10, 17.12, 17.03, 16.96, 16.99, 17.25,
    17.48, 17.68, 17.64, 17.40, 17.18, 17.11, 17.10, 17.12, 17.03, 16.96, 16.99, 17.25,
    17.50, 17.69, 17.66, 17.41, 17.18, 17.11, 17.10, 17.13, 17.03, 16.96, 16.99, 17.24,
    17.46, 17.64, 17.61, 17.37, 17.15, 17.08, 17.07, 17.09, 17.00, 16.93, 16.96, 17.21,
    17.45, 17.64, 17.60, 17.37, 17.15, 17.09, 17.08, 17.10, 17.01, 16.93, 16.96, 17.22,
    17.47, 17.66, 17.62, 17.38, 17.17, 17.11, 17.11, 17.12, 17.02, 16.93, 16.96, 17.22,
    17.46, 17.65, 17.61, 17.38, 17.16, 17.10, 17.09, 17.11, 17.02, 16.94, 16.97, 17.23,
    17.47, 17.66, 17.62, 17.38, 17.16, 17.09, 17.08, 17.11, 17.01, 16.93, 16.96, 17.22,
    17.45, 17.64, 17.60, 17.36, 17.14, 17.06, 17.06, 17.09, 17.00, 16.93, 16.96, 17.22,
    17.47, 17.66, 17.62, 17.38, 17.16, 17.10, 17.09, 17.11, 17.02, 16.94, 16.97, 17.24,
    17.48, 17.67, 17.63, 17.39, 17.17, 17.11, 17.11, 17.13, 17.03, 16.96, 17.05, 17.22,
]
s15 = [
    17.46, 17.78, 17.76, 17.50, 17.24, 17.14, 17.10, 17.12, 17.00, 16.85, 16.88, 17.20,
    17.44, 17.64, 17.60, 17.38, 17.14, 17.06, 17.08, 17.10, 17.00, 16.95, 16.98, 17.22,
    17.40, 17.58, 17.55, 17.30, 17.08, 17.00, 17.02, 17.06, 16.96, 16.87, 16.90, 17.22,
    17.40, 17.57, 17.56, 17.30, 17.06, 16.97, 16.98, 17.00, 16.92, 16.83, 16.86, 17.20,
    17.46, 17.64, 17.60, 17.34, 17.12, 17.05, 17.06, 17.08, 16.96, 16.86, 16.89, 17.22,
    17.46, 17.66, 17.62, 17.38, 17.18, 17.11, 17.10, 17.12, 17.02, 16.96, 16.99, 17.24,
    17.50, 17.70, 17.66, 17.40, 17.16, 17.08, 17.08, 17.10, 17.00, 16.93, 16.96, 17.24,
    17.48, 17.66, 17.62, 17.38, 17.16, 17.10, 17.08, 17.12, 16.98, 16.87, 16.90, 17.22,
    17.44, 17.62, 17.58, 17.34, 17.12, 17.06, 17.05, 17.08, 16.98, 16.90, 16.93, 17.26,
    17.56, 17.77, 17.72, 17.46, 17.26, 17.22, 17.23, 17.20, 17.10, 17.05, 17.08, 17.36,
    17.60, 17.79, 17.77, 17.50, 17.28, 17.20, 17.21, 17.18, 17.10, 17.05, 17.08, 17.34,
    17.56, 17.75, 17.72, 17.46, 17.24, 17.20, 17.20, 17.18, 17.08, 17.05, 17.07, 17.32,
    17.52, 17.70, 17.73, 17.46, 17.22, 17.15, 17.16, 17.20, 17.10, 17.02, 17.04, 17.30,
    17.58, 17.78, 17.71, 17.44, 17.22, 17.17, 17.20, 17.22, 17.12, 17.07, 17.10, 17.34,
    17.58, 17.76, 17.72, 17.48, 17.30, 17.29, 17.25, 17.20, 17.06, 16.98, 17.00, 17.26,
    17.54, 17.73, 17.70, 17.46, 17.26, 17.22, 17.21, 17.18, 17.06, 16.98, 17.00, 17.30,
    17.56, 17.74, 17.80, 17.50, 17.26, 17.22, 17.22, 17.27, 17.08, 16.98, 17.00, 17.24,
    17.44, 17.60, 17.58, 17.34, 17.10, 16.98, 16.98, 17.02, 16.96, 16.90, 16.93, 17.22,
    17.44, 17.60, 17.58, 17.34, 17.12, 17.04, 17.02, 17.06, 16.98, 16.92, 16.95, 17.22,
    17.44, 17.62, 17.60, 17.34, 17.12, 17.03, 17.04, 17.06, 16.96, 16.87, 16.92, 17.14,
]
s16 = [
    17.40, 17.73, 17.70, 17.48, 17.26, 17.16, 17.18, 17.16, 17.06, 16.96, 16.98, 17.20,
    17.42, 17.64, 17.60, 17.38, 17.16, 17.08, 17.06, 17.12, 17.02, 16.93, 16.95, 17.18,
    17.36, 17.54, 17.52, 17.30, 17.10, 17.04, 17.02, 17.06, 16.95, 16.87, 16.90, 17.20,
    17.42, 17.62, 17.58, 17.36, 17.14, 17.08, 17.06, 17.08, 16.96, 16.85, 16.88, 17.20,
    17.46, 17.64, 17.60, 17.38, 17.18, 17.14, 17.12, 17.14, 17.04, 16.97, 17.00, 17.26,
    17.50, 17.69, 17.66, 17.42, 17.22, 17.17, 17.18, 17.22, 17.08, 16.98, 17.02, 17.30,
    17.58, 17.81, 17.79, 17.56, 17.36, 17.29, 17.31, 17.37, 17.22, 17.16, 17.17, 17.44,
    17.64, 17.86, 17.80, 17.52, 17.28, 17.17, 17.18, 17.16, 17.02, 16.93, 16.96, 17.22,
    17.40, 17.57, 17.56, 17.32, 17.12, 17.08, 17.06, 17.08, 17.00, 16.92, 16.95, 17.22,
    17.44, 17.62, 17.60, 17.34, 17.12, 17.03, 17.04, 17.06, 16.96, 16.88, 16.92, 17.24,
    17.50, 17.70, 17.66, 17.40, 17.20, 17.15, 17.14, 17.16, 17.08, 17.03, 17.05, 17.30,
    17.52, 17.73, 17.70, 17.44, 17.20, 17.14, 17.12, 17.14, 17.02, 16.92, 16.95, 17.24,
    17.44, 17.63, 17.60, 17.32, 17.08, 16.98, 17.00, 17.00, 16.88, 16.77, 16.78, 17.06,
    17.22, 17.44, 17.44, 17.18, 16.98, 16.89, 16.91, 16.97, 16.92, 16.86, 16.88, 17.16,
    17.40, 17.60, 17.58, 17.32, 17.10, 17.03, 17.04, 17.06, 16.98, 16.92, 16.95, 17.22,
    17.46, 17.65, 17.62, 17.38, 17.18, 17.16, 17.14, 17.15, 17.06, 17.03, 17.05, 17.30,
    17.55, 17.75, 17.70, 17.42, 17.20, 17.14, 17.12, 17.16, 17.06, 16.98, 17.00, 17.24,
    17.44, 17.63, 17.60, 17.36, 17.12, 17.06, 17.08, 17.14, 17.04, 16.98, 17.00, 17.26,
    17.52, 17.72, 17.70, 17.46, 17.30, 17.30, 17.28, 17.29, 17.14, 17.08, 17.10, 17.38,
    17.58, 17.79, 17.76, 17.50, 17.30, 17.27, 17.24, 17.22, 17.10, 17.07, 17.10, 17.25,
]
s17 = [
    17.37, 17.62, 17.60, 17.41, 17.19, 17.12, 17.14, 17.10, 17.05, 16.98, 17.00, 17.22,
    17.46, 17.67, 17.64, 17.40, 17.16, 17.10, 17.11, 17.15, 17.04, 16.96, 16.98, 17.22,
    17.44, 17.62, 17.60, 17.38, 17.17, 17.12, 17.13, 17.14, 17.04, 16.96, 16.98, 17.22,
    17.44, 17.63, 17.60, 17.38, 17.16, 17.10, 17.11, 17.12, 17.02, 16.93, 16.95, 17.22,
    17.46, 17.65, 17.62, 17.40, 17.19, 17.14, 17.14, 17.14, 17.04, 16.96, 16.98, 17.24,
    17.48, 17.67, 17.64, 17.40, 17.16, 17.07, 17.06, 17.08, 17.00, 16.94, 16.97, 17.24,
    17.46, 17.63, 17.60, 17.38, 17.18, 17.13, 17.12, 17.12, 17.02, 16.96, 16.99, 17.26,
    17.50, 17.68, 17.65, 17.40, 17.18, 17.12, 17.12, 17.14, 17.04, 16.97, 17.00, 17.26,
    17.50, 17.68, 17.66, 17.42, 17.21, 17.17, 17.20, 17.18, 17.06, 16.96, 16.99, 17.29,
    17.53, 17.73, 17.70, 17.44, 17.20, 17.10, 17.08, 17.10, 17.02, 16.96, 16.99, 17.26,
    17.48, 17.66, 17.64, 17.38, 17.14, 17.06, 17.08, 17.06, 16.97, 16.87, 16.90, 17.20,
    17.48, 17.69, 17.66, 17.40, 17.14, 17.06, 17.07, 17.07, 16.96, 16.87, 16.90, 17.20,
    17.39, 17.55, 17.54, 17.30, 17.08, 16.98, 16.97, 16.99, 16.92, 16.84, 16.87, 17.16,
    17.40, 17.60, 17.56, 17.32, 17.10, 17.04, 17.04, 17.06, 16.98, 16.90, 16.93, 17.20,
    17.40, 17.58, 17.56, 17.34, 17.14, 17.10, 17.08, 17.10, 17.00, 16.91, 16.94, 17.22,
    17.44, 17.64, 17.60, 17.36, 17.12, 17.05, 17.04, 17.06, 16.96, 16.89, 16.92, 17.20,
    17.42, 17.60, 17.58, 17.36, 17.16, 17.12, 17.13, 17.15, 17.04, 16.93, 16.95, 17.26,
    17.53, 17.71, 17.68, 17.42, 17.18, 17.10, 17.07, 17.08, 17.00, 16.95, 16.98, 17.29,
    17.57, 17.77, 17.75, 17.46, 17.20, 17.10, 17.10, 17.12, 17.02, 16.95, 16.98, 17.28,
    17.48, 17.68, 17.66, 17.40, 17.16, 17.10, 17.10, 17.13, 17.02, 16.91, 16.94, 17.15,
]
s18 = [
    17.36, 17.62, 17.60, 17.40, 17.18, 17.10, 17.12, 17.08, 17.05, 16.98, 17.00, 17.22,
    17.46, 17.68, 17.64, 17.40, 17.16, 17.10, 17.12, 17.16, 17.04, 16.96, 16.98, 17.22,
    17.44, 17.62, 17.60, 17.38, 17.18, 17.12, 17.14, 17.14, 17.04, 16.96, 16.98, 17.22,
    17.44, 17.63, 17.60, 17.38, 17.16, 17.10, 17.12, 17.12, 17.02, 16.92, 16.95, 17.22,
    17.46, 17.65, 17.62, 17.40, 17.20, 17.14, 17.15, 17.14, 17.04, 16.96, 16.98, 17.24,
    17.48, 17.68, 17.64, 17.40, 17.16, 17.06, 17.06, 17.08, 17.00, 16.94, 16.97, 17.24,
    17.46, 17.63, 17.60, 17.38, 17.18, 17.13, 17.12, 17.12, 17.02, 16.96, 16.99, 17.26,
    17.50, 17.68, 17.66, 17.40, 17.18, 17.12, 17.12, 17.14, 17.04, 16.97, 17.00, 17.26,
    17.50, 17.69, 17.66, 17.42, 17.22, 17.18, 17.21, 17.18, 17.06, 16.96, 16.99, 17.30,
    17.54, 17.74, 17.70, 17.44, 17.20, 17.10, 17.07, 17.10, 17.02, 16.96, 16.99, 17.26,
    17.48, 17.66, 17.64, 17.38, 17.14, 17.05, 17.08, 17.06, 16.96, 16.86, 16.89, 17.20,
    17.48, 17.69, 17.66, 17.40, 17.14, 17.06, 17.07, 17.06, 16.96, 16.86, 16.90, 17.20,
    17.38, 17.55, 17.54, 17.30, 17.08, 16.98, 16.96, 16.98, 16.92, 16.83, 16.86, 17.16,
    17.40, 17.60, 17.55, 17.32, 17.10, 17.04, 17.04, 17.06, 16.98, 16.90, 16.93, 17.20,
    17.40, 17.58, 17.56, 17.34, 17.14, 17.10, 17.08, 17.10, 17.00, 16.91, 16.94, 17.22,
    17.44, 17.64, 17.60, 17.36, 17.12, 17.05, 17.04, 17.06, 16.96, 16.88, 16.91, 17.20,
    17.42, 17.60, 17.58, 17.36, 17.16, 17.12, 17.14, 17.16, 17.04, 16.92, 16.95, 17.26,
    17.54, 17.72, 17.69, 17.42, 17.18, 17.10, 17.06, 17.08, 17.00, 16.95, 16.98, 17.30,
    17.58, 17.78, 17.76, 17.46, 17.20, 17.10, 17.10, 17.12, 17.02, 16.95, 16.98, 17.28,
    17.48, 17.68, 17.66, 17.40, 17.16, 17.10, 17.10, 17.13, 17.02, 16.90, 16.94, 17.15,
]
s19 = [
    17.34, 17.66, 17.64, 17.44, 17.22, 17.05, 17.03, 17.20, 17.14, 17.09, 17.09, 17.24,
    17.48, 17.72, 17.68, 17.42, 17.18, 17.10, 17.08, 17.10, 16.98, 16.87, 16.92, 17.20,
    17.48, 17.68, 17.64, 17.40, 17.18, 17.10, 17.08, 17.12, 17.04, 16.96, 16.99, 17.26,
    17.52, 17.72, 17.68, 17.44, 17.24, 17.20, 17.22, 17.21, 17.08, 16.98, 17.00, 17.26,
    17.48, 17.68, 17.64, 17.40, 17.18, 17.10, 17.08, 17.11, 17.02, 16.96, 16.98, 17.22,
    17.36, 17.51, 17.51, 17.28, 17.08, 16.99, 16.99, 17.06, 16.94, 16.87, 16.92, 17.22,
    17.48, 17.67, 17.64, 17.42, 17.22, 17.18, 17.20, 17.16, 17.10, 17.09, 17.10, 17.38,
    17.60, 17.78, 17.78, 17.50, 17.26, 17.20, 17.18, 17.20, 17.08, 17.00, 17.02, 17.26,
    17.46, 17.64, 17.60, 17.36, 17.16, 17.10, 17.09, 17.10, 17.02, 16.96, 16.98, 17.24,
    17.46, 17.64, 17.60, 17.38, 17.18, 17.15, 17.14, 17.12, 17.02, 16.96, 16.99, 17.26,
    17.50, 17.70, 17.66, 17.40, 17.18, 17.12, 17.10, 17.12, 17.04, 16.99, 17.01, 17.26,
    17.48, 17.68, 17.64, 17.40, 17.18, 17.10, 17.10, 17.12, 17.04, 16.96, 16.98, 17.24,
    17.46, 17.63, 17.60, 17.36, 17.14, 17.08, 17.06, 17.10, 17.02, 16.95, 16.98, 17.22,
    17.44, 17.62, 17.58, 17.36, 17.14, 17.08, 17.06, 17.09, 17.00, 16.94, 16.97, 17.22,
    17.44, 17.62, 17.58, 17.34, 17.10, 16.98, 16.97, 17.00, 16.92, 16.83, 16.86, 17.18,
    17.42, 17.60, 17.58, 17.36, 17.16, 17.10, 17.09, 17.10, 17.00, 16.94, 16.96, 17.22,
    17.44, 17.62, 17.60, 17.36, 17.14, 17.08, 17.06, 17.08, 16.96, 16.86, 16.90, 17.20,
    17.46, 17.64, 17.60, 17.38, 17.16, 17.08, 17.08, 17.10, 17.00, 16.94, 16.97, 17.24,
    17.50, 17.70, 17.66, 17.40, 17.18, 17.10, 17.10, 17.12, 17.04, 16.98, 17.00, 17.30,
    17.60, 17.81, 17.76, 17.48, 17.24, 17.16, 17.14, 17.16, 17.10, 17.07, 17.08, 17.10,
]

series = [s00, s01, s02, s03, s04, s05, s06, s07, s08, s09,
          s10, s11, s12, s13, s14, s15, s16, s17, s18, s19]

DPI = 140
fig = plt.figure(figsize=(1605 / DPI, 741 / DPI), dpi=DPI)
ax = fig.add_axes([74 / 1605, 1 - 666 / 741, (1412 - 74) / 1605, (666 - 14) / 741])

for values, label in zip(series, member_labels):
    ax.plot(time, values, lw=1.5, label=label)

ax.set_xticks(xtick_years)
ax.set_xticklabels([str(y) for y in xtick_years])
ax.set_xlabel("time")
ax.legend(loc="upper left", bbox_to_anchor=(1.0, 1.0))

fig.savefig("out.png", dpi=DPI)
